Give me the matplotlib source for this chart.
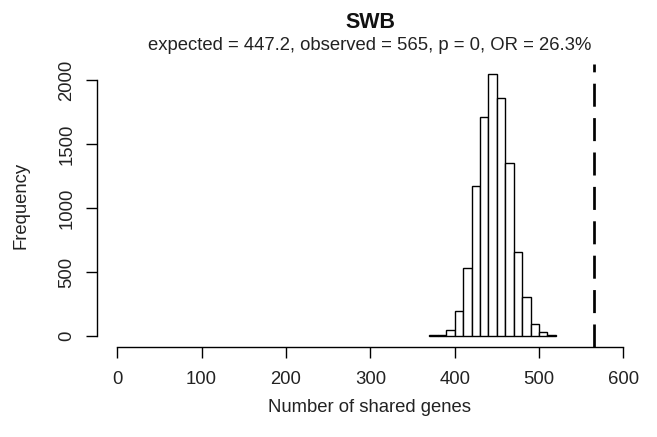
import matplotlib
matplotlib.use("Agg")
import matplotlib.pyplot as plt

plt.rcParams['font.family'] = ['Liberation Sans', 'DejaVu Sans']

# permutation histogram, bins of width 10
bin_left = [370, 380, 390, 400, 410, 420, 430, 440, 450, 460, 470, 480, 490, 500, 510]
counts = [5, 10, 47, 193, 530, 1176, 1711, 2049, 1859, 1353, 659, 307, 91, 29, 5]
bin_width = 10
observed = 565
title = "SWB"
subtitle = "expected = 447.2, observed = 565, p = 0, OR = 26.3%"
xticks = [0, 100, 200, 300, 400, 500, 600]
yticks = [0, 500, 1000, 1500, 2000]

W, H = 657, 437
fig = plt.figure(figsize=(W / 100, H / 100), dpi=100)
# plot region in pixels (R style margins)
left, right, top, bottom = 97, 643.6, 63.6, 346.5
ax = fig.add_axes([left / W, 1 - bottom / H, (right - left) / W, (bottom - top) / H])

ax.bar(bin_left, counts, width=bin_width, align='edge', color='white',
       edgecolor='black', linewidth=1.0)
ax.axvline(observed, color='black', linewidth=1.95, linestyle=(0, (8.5, 4.2)))

ax.set_xlim(-24, 624)
ymax = max(counts)
ax.set_ylim(-0.04 * ymax, 1.04 * ymax)

for s in ['top', 'right']:
    ax.spines[s].set_visible(False)
ax.spines['bottom'].set_bounds(xticks[0], xticks[-1])
ax.spines['left'].set_bounds(yticks[0], yticks[-1])
for s in ['bottom', 'left']:
    ax.spines[s].set_linewidth(1.0)

ax.set_xticks(xticks)
ax.set_yticks(yticks)
ax.set_yticklabels([str(v) for v in yticks], rotation=90, va='center')
ax.tick_params(axis='both', length=7.7, width=1.0, labelsize=13.3, labelcolor='#222222')
ax.tick_params(axis='x', pad=10)
ax.tick_params(axis='y', pad=8)

fig.text(370 / W, 1 - 22 / H, title, ha='center', va='center',
         fontsize=15.5, fontweight='bold', color='#111111')
fig.text(370 / W, 1 - 46 / H, subtitle, ha='center', va='center',
         fontsize=13.3, color='#222222')
fig.text(370 / W, 1 - 408 / H, "Number of shared genes", ha='center',
         va='center', fontsize=13.3, color='#222222')
fig.text(21 / W, 1 - 205 / H, "Frequency", ha='center', va='center',
         rotation=90, fontsize=13.3, color='#222222')

fig.savefig("out.png", dpi=100)
